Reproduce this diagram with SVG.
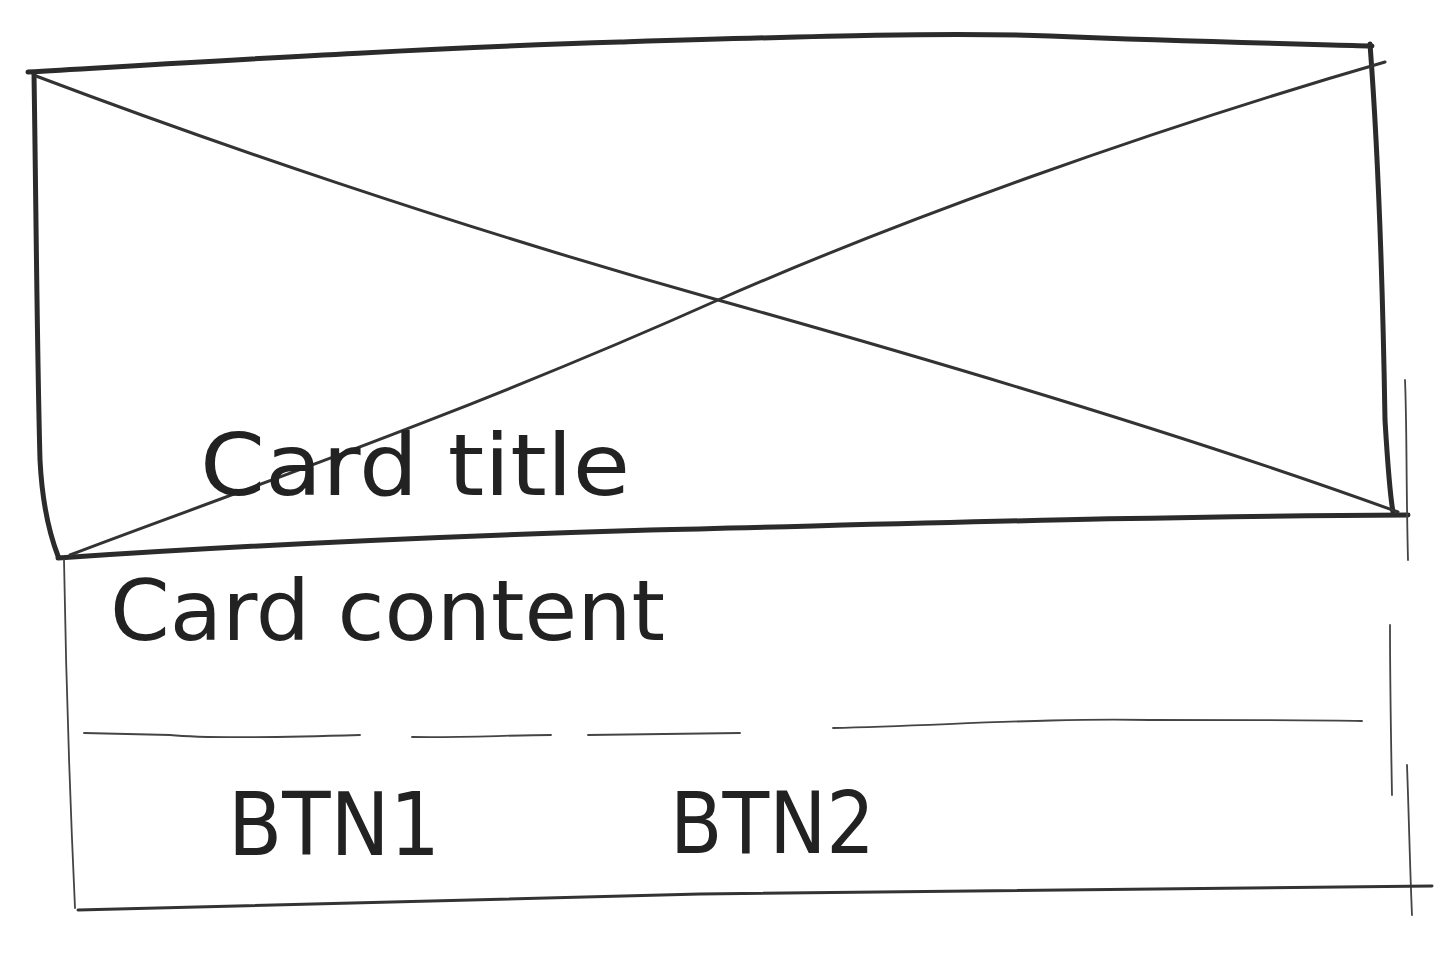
<svg xmlns="http://www.w3.org/2000/svg" width="1448" height="969" viewBox="0 0 1448 969">
<style>
.thick{fill:none;stroke:#2b2b2b;stroke-width:5;stroke-linecap:round;stroke-linejoin:round}
.mid{fill:none;stroke:#333;stroke-width:3;stroke-linecap:round}
.thin{fill:none;stroke:#444;stroke-width:1.8;stroke-linecap:round}
.hand{font-family:"DejaVu Sans","Liberation Sans",sans-serif;fill:#222;font-weight:normal}
</style>
<rect width="1448" height="969" fill="#fff"/>
<g id="image-box">
<path class="thick" d="M28,72 C200,62 420,48 620,42 C820,36 950,32 1050,36 C1200,42 1300,44 1372,46"/>
<path class="thick" d="M34,74 C36,200 37,350 40,460 C42,500 48,530 58,556"/>
<path class="thick" d="M1370,44 C1378,150 1383,300 1385,420 C1388,470 1390,495 1393,512"/>
<path class="thick" d="M58,558 C250,545 450,536 650,530 C900,524 1150,516 1408,515"/>
<path class="mid" d="M36,76 C200,138 450,225 718,300 C950,365 1200,440 1398,512"/>
<path class="mid" d="M70,555 C200,505 450,420 718,300 C900,220 1150,130 1385,62"/>
<path class="thin" d="M1405,380 C1407,430 1406,480 1408,560"/>
</g>
<g id="content-area">
<path class="thin" d="M64,560 C66,680 70,800 75,908"/>
<path class="thin" d="M1390,625 C1390,680 1391,740 1392,795"/>
<path class="thin" d="M1407,765 C1409,820 1410,870 1412,915"/>
<path class="mid" d="M78,910 C300,905 550,896 700,894 C950,890 1200,888 1432,886"/>
</g>
<g id="divider">
<path class="thin" d="M84,733 L170,735 C200,738 260,738 360,735"/>
<path class="thin" d="M412,737 C460,738 510,735 551,735"/>
<path class="thin" d="M588,735 L740,733"/>
<path class="thin" d="M833,728 C950,725 1050,718 1150,720 C1250,720 1320,720 1362,721"/>
</g>
<g id="labels">
<text class="hand" x="200" y="495" font-size="86" textLength="430" lengthAdjust="spacingAndGlyphs">Card title</text>
<text class="hand" x="110" y="640" font-size="84" textLength="555" lengthAdjust="spacingAndGlyphs">Card content</text>
<text class="hand" x="228" y="855" font-size="88" textLength="212" lengthAdjust="spacingAndGlyphs">BTN1</text>
<text class="hand" x="670" y="853" font-size="86" textLength="205" lengthAdjust="spacingAndGlyphs">BTN2</text>
</g>
</svg>
